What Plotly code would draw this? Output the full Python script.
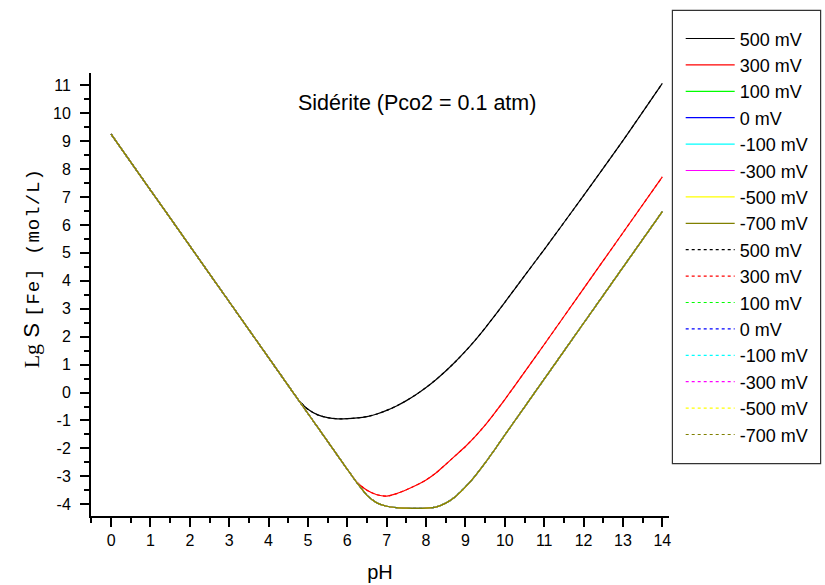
import plotly.graph_objects as go

# ---------------- data ----------------
ph = [0, 1, 2, 3, 4, 4.5, 4.75, 5, 5.25, 5.5, 5.75, 6, 6.25, 6.5, 6.75, 7, 7.25, 7.5,
      7.75, 8, 8.25, 8.5, 8.75, 9, 9.25, 9.5, 9.75, 10, 10.5, 11, 12, 13, 14]

lg_s_500 = [9.25, 7.25, 5.25, 3.25, 1.25, 0.25, -0.25, -0.6, -0.8, -0.9, -0.94, -0.935,
            -0.91, -0.86, -0.77, -0.64, -0.48, -0.29, -0.07, 0.18, 0.46, 0.77, 1.11,
            1.48, 1.88, 2.31, 2.76, 3.23, 4.18, 5.12, 7.05, 9.02, 11.07]

lg_s_300 = [9.25, 7.25, 5.25, 3.25, 1.25, 0.25, -0.25, -0.75, -1.25, -1.75, -2.25, -2.75,
            -3.22, -3.5, -3.66, -3.71, -3.62, -3.48, -3.32, -3.13, -2.88, -2.57, -2.25,
            -1.93, -1.57, -1.17, -0.72, -0.25, 0.73, 1.72, 3.72, 5.72, 7.72]

lg_s_low = [9.25, 7.25, 5.25, 3.25, 1.25, 0.25, -0.25, -0.75, -1.25, -1.75, -2.25, -2.75,
            -3.24, -3.68, -3.95, -4.07, -4.12, -4.14, -4.15, -4.14, -4.1, -3.96, -3.72,
            -3.38, -2.98, -2.52, -2.03, -1.52, -0.52, 0.48, 2.48, 4.48, 6.48]

potentials = ["500 mV", "300 mV", "100 mV", "0 mV", "-100 mV", "-300 mV", "-500 mV", "-700 mV"]
series_values = [lg_s_500, lg_s_300, lg_s_low, lg_s_low, lg_s_low, lg_s_low, lg_s_low, lg_s_low]
colors = ["#000000", "#FF0000", "#00FF00", "#0000FF", "#00FFFF", "#FF00FF", "#FFFF00", "#808000"]

x_ticks = list(range(0, 15))
y_ticks = list(range(-4, 12))

# ---------------- figure ----------------
W, H = 825, 585
L, R, T, B = 91, 669.3, 72.7, 515.7
pw, ph_ = R - L, B - T

def px_x(x):
    return (x - L) / pw

def px_y(y):
    return (B - y) / ph_

fig = go.Figure()

# dotted series (drawn underneath)
for i, (name, vals, col) in enumerate(zip(potentials, series_values, colors)):
    fig.add_trace(go.Scatter(
        x=ph, y=vals, name=name, mode="lines",
        line=dict(color=col, width=1.2, dash="dot", shape="spline", smoothing=0.6),
        legendrank=100 + 8 + i,
    ))
# solid series
for i, (name, vals, col) in enumerate(zip(potentials, series_values, colors)):
    fig.add_trace(go.Scatter(
        x=ph, y=vals, name=name, mode="lines",
        line=dict(color=col, width=1.2, shape="spline", smoothing=0.6),
        legendrank=100 + i,
    ))

axis_common = dict(
    showline=True, linecolor="black", linewidth=2, mirror=False,
    ticks="outside", ticklen=9, tickwidth=1.5, tickcolor="black",
    showgrid=False, zeroline=False,
    tickfont=dict(family="Liberation Sans, Arial", size=16, color="black"),
    minor=dict(ticks="outside", ticklen=5, tickwidth=1.5, tickcolor="black", showgrid=False),
)

fig.update_xaxes(
    range=[-0.51, 14.17], tickmode="array", tickvals=x_ticks, ticktext=[str(v) for v in x_ticks],
    title=dict(text="pH", font=dict(family="Liberation Sans, Arial", size=20, color="black"), standoff=17),
    **axis_common,
)
fig.update_xaxes(minor=dict(dtick=0.5, tick0=0))
fig.update_yaxes(
    range=[-4.42, 11.44], tickmode="array", tickvals=y_ticks, ticktext=[str(v) for v in y_ticks],
    ticklabelstandoff=6,
    **axis_common,
)
fig.update_yaxes(minor=dict(dtick=0.5, tick0=0))

# chart title inside plot
fig.add_annotation(
    x=px_x(417.5), y=px_y(103), xref="paper", yref="paper", showarrow=False,
    xanchor="center", yanchor="middle",
    text="Sidérite (Pco2 = 0.1 atm)",
    font=dict(family="Liberation Sans, Arial", size=21.5, color="black"),
)
# y-axis title
fig.add_annotation(
    x=px_x(32), y=px_y(268), xref="paper", yref="paper", showarrow=False, textangle=-90,
    xanchor="center", yanchor="middle",
    text=('<span style="font-family:Liberation Serif;font-size:22px">Lg</span> S '
          '<span style="font-family:Liberation Mono;font-size:19px;letter-spacing:1px">[Fe] (mol/L)</span>'),
    font=dict(family="Liberation Sans, Arial", size=22, color="black"),
)

# legend frame
fig.add_shape(type="rect", xref="paper", yref="paper",
              x0=px_x(672.7), x1=px_x(821), y0=px_y(463.3), y1=px_y(10),
              line=dict(color="#333333", width=1.2), fillcolor="rgba(0,0,0,0)")

fig.update_layout(
    width=W, height=H,
    margin=dict(l=L, r=W - R, t=T, b=H - B, autoexpand=False),
    paper_bgcolor="white", plot_bgcolor="white",
    showlegend=True,
    legend=dict(
        x=px_x(681), y=px_y(20), xanchor="left", yanchor="top",
        bgcolor="rgba(0,0,0,0)", borderwidth=0, maxheight=480,
        font=dict(family="Liberation Sans, Arial", size=18, color="black"),
        itemwidth=49, tracegroupgap=0,
    ),
)

fig.write_html("out.html",
               config={"displayModeBar": False},
               post_script="document.body.style.margin='0px';document.body.style.overflow='hidden';")
